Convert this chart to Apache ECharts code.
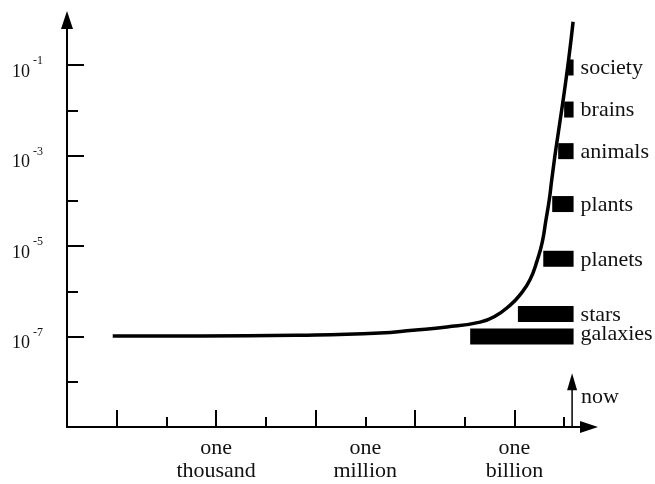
<!DOCTYPE html>
<html>
<head>
<meta charset="utf-8">
<script src="https://cdn.jsdelivr.net/npm/echarts@6/dist/echarts.min.js"></script>
<style>
html,body{margin:0;padding:0;background:#fff;}
#chart{width:655px;height:484px;}
</style>
</head>
<body>
<div id="chart"></div>
<script>
// x: log10(years), y: log10(value)
const curveX = [0.92, 2.67, 4.68, 6.29, 6.96, 7.64, 8.31, 8.61, 8.91, 9.11, 9.31, 9.46, 9.56, 9.63, 9.70, 9.75, 9.83, 9.98, 10.09, 10.18];
const curveY = [-6.99, -6.99, -6.97, -6.92, -6.86, -6.79, -6.68, -6.55, -6.31, -6.08, -5.75, -5.31, -4.91, -4.45, -3.98, -3.54, -2.88, -1.77, -0.88, -0.04];

const barNames = ['society', 'brains', 'animals', 'plants', 'planets', 'stars', 'galaxies'];
const barStart = [10.08, 10.00, 9.88, 9.76, 9.58, 9.07, 8.11];
const barEnd = 10.19;
const barLevel = [-1.05, -1.98, -2.90, -4.07, -5.28, -6.50, -7.00];

const nowX = 10.16;
const nowArrowTop = -8.0;

const yMajorTicks = [-7, -5, -3, -1];
const yMinorTicks = [-8, -6, -4, -2];
const xMajorTicks = [1, 3, 5, 7, 9];
const xMinorTicks = [2, 4, 6, 8, 10];
const xLabelValues = [3, 6, 9];
const xLabelText = {3: 'one\nthousand', 6: 'one\nmillion', 9: 'one\nbillion'};

const FONT = '"Liberation Serif", "Times New Roman", serif';
const INK = '#111';

const chart = echarts.init(document.getElementById('chart'), null, {renderer: 'canvas'});

const baseX = {
  type: 'value', min: 0, max: 10.5, gridIndex: 0, position: 'bottom',
  splitLine: {show: false}
};
const baseY = {
  type: 'value', min: -9, max: 0, gridIndex: 0, position: 'left',
  splitLine: {show: false}
};

const option = {
  backgroundColor: '#fff',
  animation: false,
  grid: {left: 67, right: 66, top: 20, bottom: 57, containLabel: false, outerBoundsMode: 'none'},
  xAxis: [
    Object.assign({}, baseX, {
      axisLine: {show: true, onZero: false, symbol: ['none', 'triangle'], symbolSize: [12, 18], lineStyle: {color: '#000', width: 2}},
      axisTick: {show: true, inside: true, length: 17, customValues: xMajorTicks, lineStyle: {color: '#000', width: 2}},
      axisLabel: {show: true, customValues: xLabelValues, margin: 10, color: INK, fontFamily: FONT, fontSize: 22, lineHeight: 23,
        formatter: v => xLabelText[Math.round(v)] || ''}
    }),
    Object.assign({}, baseX, {
      offset: 0,
      axisLine: {show: false, onZero: false},
      axisTick: {show: true, inside: true, length: 10, customValues: xMinorTicks, lineStyle: {color: '#000', width: 2}},
      axisLabel: {show: false}
    })
  ],
  yAxis: [
    Object.assign({}, baseY, {
      axisLine: {show: true, onZero: false, symbol: ['none', 'triangle'], symbolSize: [12, 18], lineStyle: {color: '#000', width: 2}},
      axisTick: {show: true, inside: true, length: 17, customValues: yMajorTicks, lineStyle: {color: '#000', width: 2}},
      axisLabel: {show: true, customValues: yMajorTicks, margin: 24, color: INK, fontFamily: FONT,
        padding: [6, 0, 0, 0],
        formatter: v => '{b|10} {s|' + Math.round(v) + '}',
        rich: {
          b: {fontSize: 18, fontFamily: FONT, color: INK, lineHeight: 26, verticalAlign: 'bottom'},
          s: {fontSize: 12, fontFamily: FONT, color: INK, lineHeight: 26, verticalAlign: 'top'}
        }}
    }),
    Object.assign({}, baseY, {
      offset: 0,
      axisLine: {show: false, onZero: false},
      axisTick: {show: true, inside: true, length: 11, customValues: yMinorTicks, lineStyle: {color: '#000', width: 2}},
      axisLabel: {show: false}
    })
  ],
  series: [
    {
      type: 'custom',
      xAxisIndex: 0, yAxisIndex: 0,
      clip: false,
      data: barNames.map((n, i) => [barStart[i], barEnd, barLevel[i], n]),
      renderItem: function (params, api) {
        const s = api.coord([api.value(0), api.value(2)]);
        const e = api.coord([api.value(1), api.value(2)]);
        const h = 16;
        const name = barNames[params.dataIndex];
        const dy = name === 'galaxies' ? -2 : 1;
        return {
          type: 'group',
          children: [
            {type: 'rect', shape: {x: s[0], y: s[1] - h / 2, width: e[0] - s[0], height: h}, style: {fill: '#000'}},
            {type: 'text', style: {text: name, x: e[0] + 7, y: s[1] + dy, align: 'left', verticalAlign: 'middle',
              fontSize: 22, fontFamily: FONT, fill: INK}}
          ]
        };
      },
      z: 2
    },
    {
      type: 'line',
      xAxisIndex: 0, yAxisIndex: 0,
      data: curveX.map((x, i) => [x, curveY[i]]),
      smooth: 0.5,
      showSymbol: false,
      symbol: 'none',
      lineStyle: {color: '#000', width: 3.5},
      z: 3
    },
    {
      type: 'line',
      xAxisIndex: 0, yAxisIndex: 0,
      data: [
        {value: [nowX, -9], symbol: 'none'},
        {value: [nowX, nowArrowTop], symbol: 'triangle', symbolSize: [10, 17],
          label: {show: true, formatter: 'now', position: 'right', distance: 4, offset: [0, 15], color: INK, fontFamily: FONT, fontSize: 22}}
      ],
      showAllSymbol: true,
      itemStyle: {color: '#000'},
      lineStyle: {color: '#000', width: 1.5},
      z: 3
    }
  ]
};
chart.setOption(option);
</script>
</body>
</html>
